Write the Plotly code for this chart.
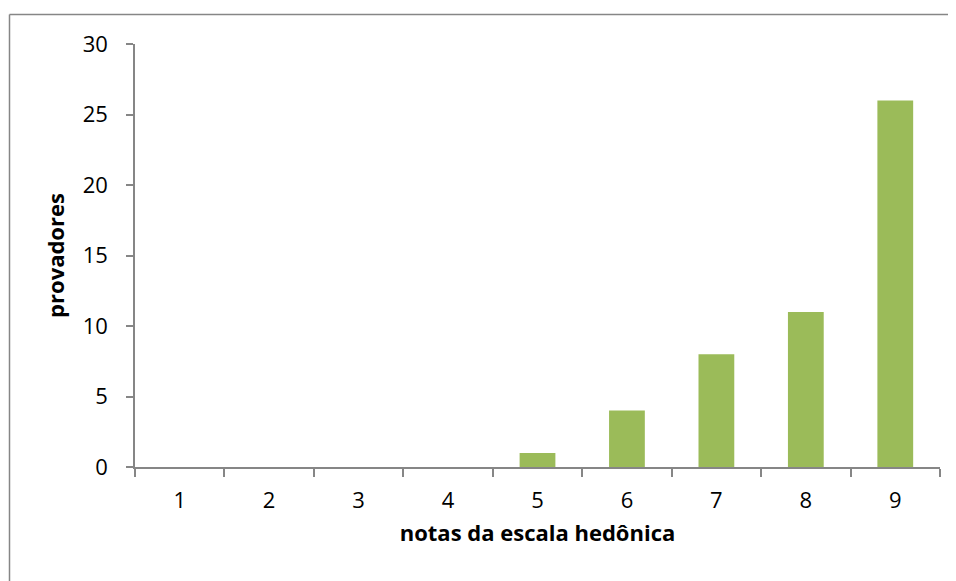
import plotly.graph_objects as go

categories = ["1", "2", "3", "4", "5", "6", "7", "8", "9"]
values = [0, 0, 0, 0, 1, 4, 8, 11, 26]
y_ticks = [0, 5, 10, 15, 20, 25, 30]

FONT = "Open Sans"
GRAY = "#868686"

fig = go.Figure(go.Bar(x=categories, y=values, marker_color="#9BBB59",
                       marker_line_width=0, width=0.4))

# page body has an 8px margin; work in figure coordinates = screen - 8
OFF = 8
W, H = 948, 573
L, T = 135 - OFF, 44 - OFF
R = W - (940 - OFF)
B = H - (467 - OFF)
pw, ph = W - L - R, H - T - B

def px_x(p):
    return (p - OFF - L) / pw

def px_y(p):
    return (H - B - (p - OFF)) / ph

border = dict(color=GRAY, width=1.5)

fig.update_layout(
    width=W, height=H,
    margin=dict(l=L, r=R, t=T, b=B),
    plot_bgcolor="white", paper_bgcolor="white",
    showlegend=False,
    font=dict(family=FONT, size=22, color="black"),
    xaxis=dict(type="category", tickson="boundaries", ticks="outside", ticklen=8,
               tickcolor=GRAY, tickwidth=1.5, showline=True, linecolor=GRAY, linewidth=1.5,
               showgrid=False, ticklabelstandoff=13,
               tickfont=dict(family=FONT, size=22),
               title=dict(text="<b>notas da escala hedônica</b>", standoff=12,
                          font=dict(family=FONT, size=22))),
    yaxis=dict(range=[0, 30], tickvals=y_ticks, ticks="outside", ticklen=7,
               tickcolor=GRAY, tickwidth=1.5, showline=True, linecolor=GRAY, linewidth=1.5,
               showgrid=False, zeroline=False, ticklabelstandoff=14,
               tickfont=dict(family=FONT, size=22),
               title=dict(text="<b>provadores</b>", standoff=12,
                          font=dict(family=FONT, size=22))),
    shapes=[
        dict(type="line", xref="paper", yref="paper",
             x0=px_x(9.5), x1=px_x(9.5), y0=px_y(600), y1=px_y(14.5), line=border),
        dict(type="line", xref="paper", yref="paper",
             x0=px_x(9.5), x1=px_x(975), y0=px_y(14.5), y1=px_y(14.5), line=border),
    ],
)

fig.write_html("out.html")
